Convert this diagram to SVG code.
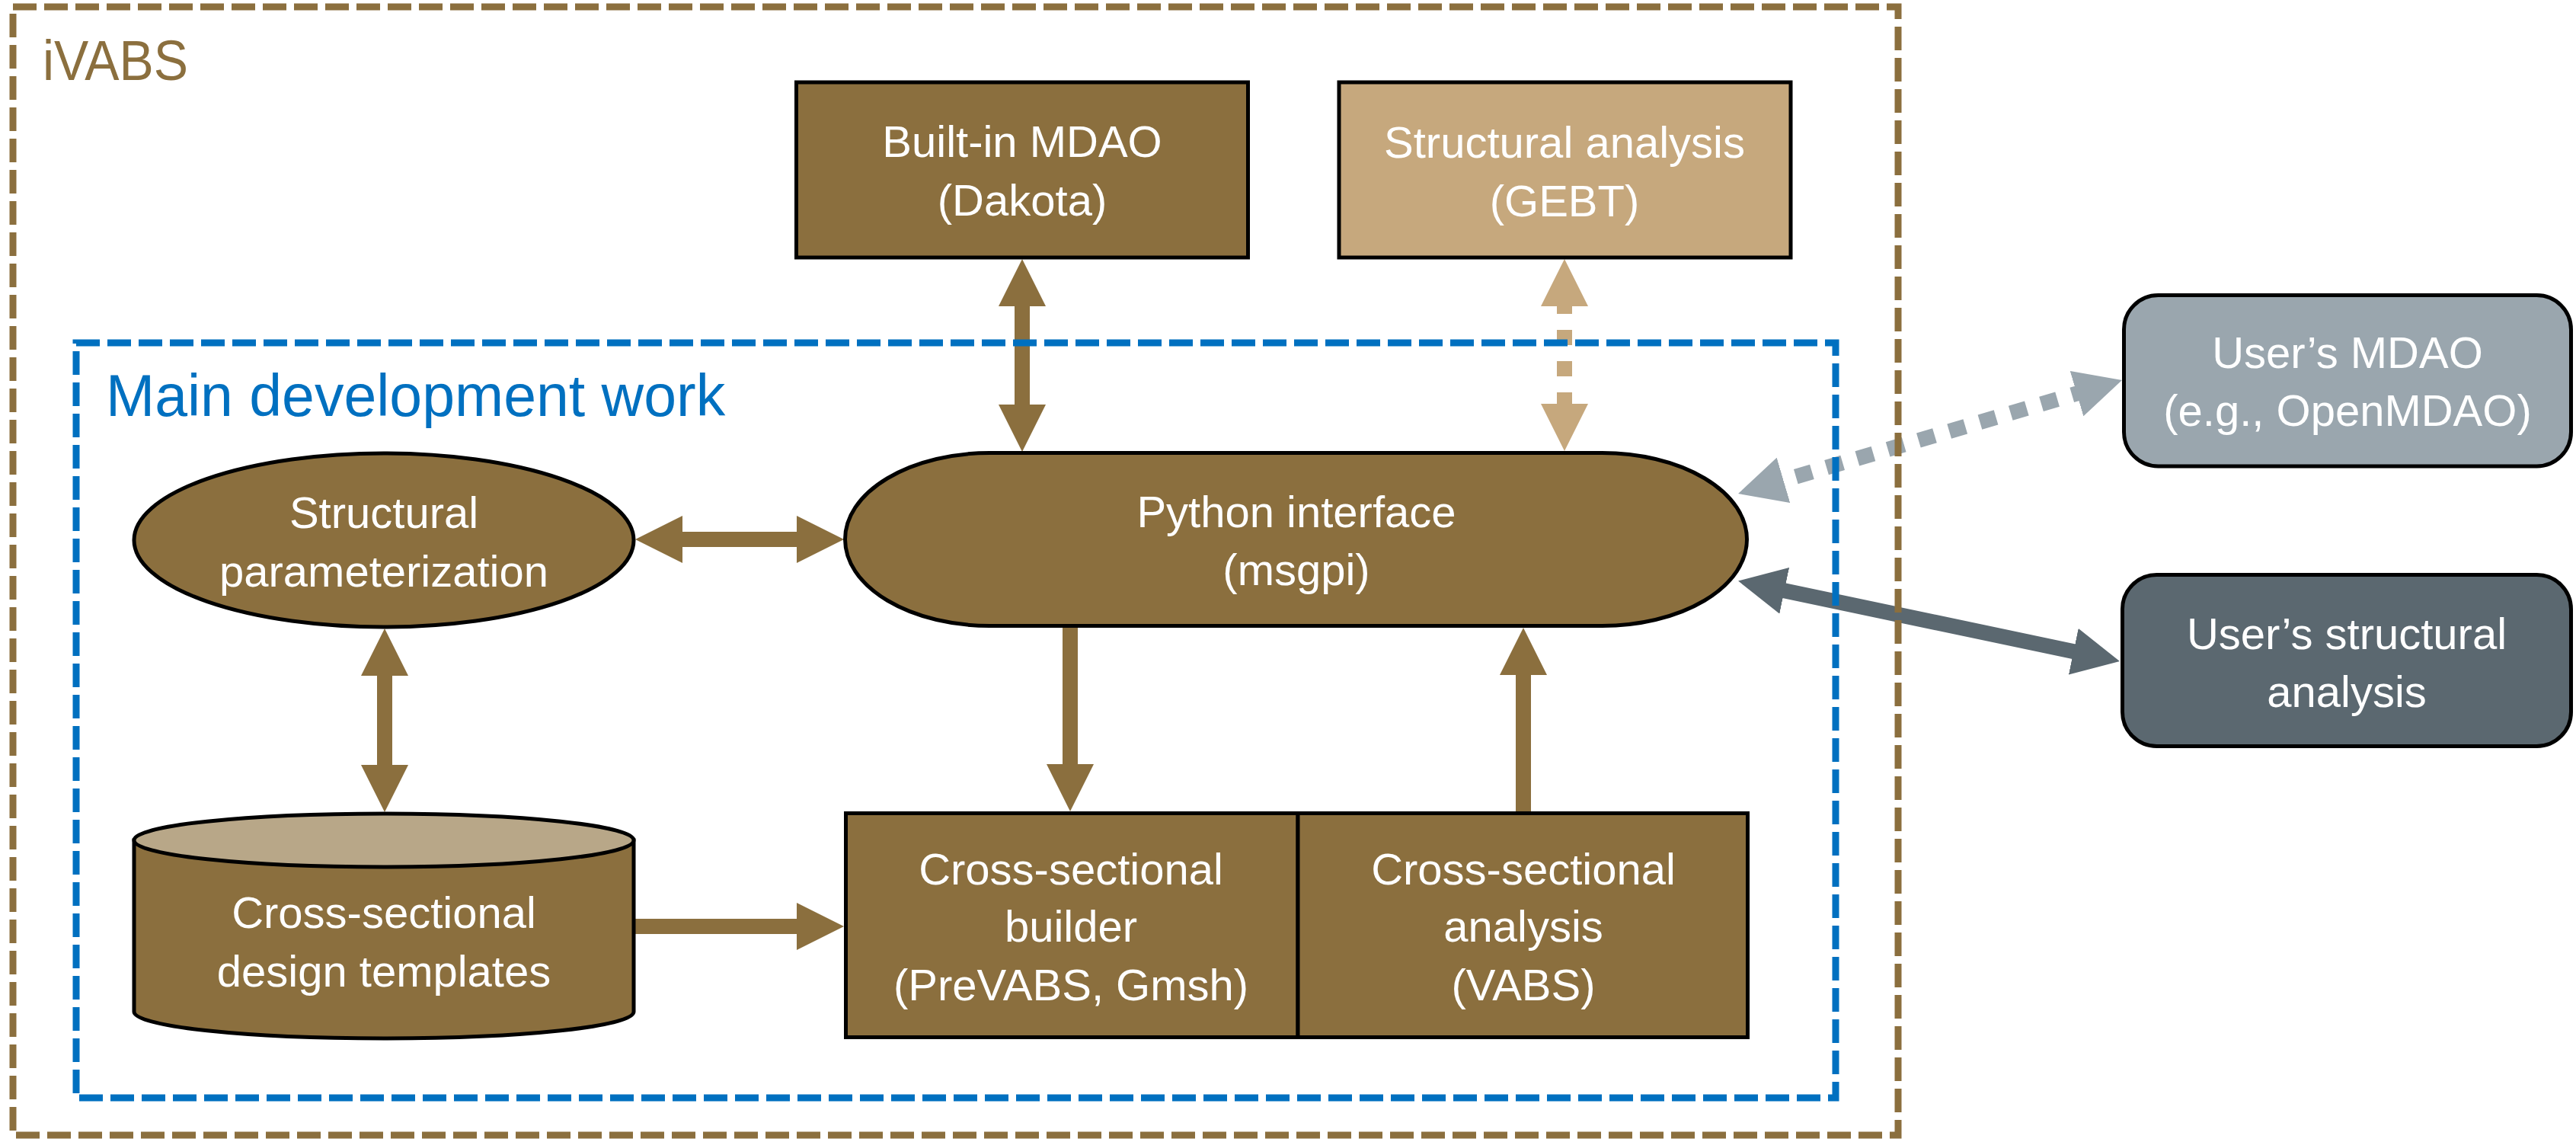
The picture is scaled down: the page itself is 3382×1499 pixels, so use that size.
<svg xmlns="http://www.w3.org/2000/svg" width="3382" height="1499" viewBox="0 0 3382 1499">
<style>
.t{font-family:"Liberation Sans",Arial,sans-serif;font-size:58px;fill:#fff;text-anchor:middle}
.node{stroke:#000;stroke-width:5}
.brown{fill:#8B6F3E}
.shaft{fill:none;stroke-width:20;stroke-linecap:butt}
</style>
<defs>
<marker id="hBrown" viewBox="0 0 62 62" refX="32" refY="31" markerWidth="62" markerHeight="62" markerUnits="userSpaceOnUse" orient="auto-start-reverse"><path d="M0,0 L62,31 L0,62 z" fill="#8B6F3E"/></marker>
<marker id="hTan" viewBox="0 0 62 62" refX="32" refY="31" markerWidth="62" markerHeight="62" markerUnits="userSpaceOnUse" orient="auto-start-reverse"><path d="M0,0 L62,31 L0,62 z" fill="#C6A87D"/></marker>
<marker id="hGrey" viewBox="0 0 62 62" refX="32" refY="31" markerWidth="62" markerHeight="62" markerUnits="userSpaceOnUse" orient="auto-start-reverse"><path d="M0,0 L62,31 L0,62 z" fill="#9AA6AE"/></marker>
<marker id="hSlate" viewBox="0 0 62 62" refX="32" refY="31" markerWidth="62" markerHeight="62" markerUnits="userSpaceOnUse" orient="auto-start-reverse"><path d="M0,0 L62,31 L0,62 z" fill="#5B6870"/></marker>
</defs>
<rect width="3382" height="1499" fill="#fff"/>

<g id="connectors">
<line class="shaft" x1="1342" y1="370" x2="1342" y2="563" stroke="#8B6F3E" stroke-width="18" marker-start="url(#hBrown)" marker-end="url(#hBrown)"/>
<line class="shaft" x1="2054" y1="370" x2="2054" y2="562" stroke="#C6A87D" stroke-width="18" stroke-dasharray="20 21" stroke-dashoffset="19" marker-start="url(#hTan)" marker-end="url(#hTan)"/>
<line class="shaft" x1="864" y1="708" x2="1078" y2="708" stroke="#8B6F3E" marker-start="url(#hBrown)" marker-end="url(#hBrown)"/>
<line class="shaft" x1="505" y1="855" x2="505" y2="1036" stroke="#8B6F3E" marker-start="url(#hBrown)" marker-end="url(#hBrown)"/>
<line class="shaft" x1="834" y1="1216" x2="1078" y2="1216" stroke="#8B6F3E" marker-end="url(#hBrown)"/>
<line class="shaft" x1="1405" y1="824" x2="1405" y2="1035" stroke="#8B6F3E" marker-end="url(#hBrown)"/>
<line class="shaft" x1="2000" y1="1065" x2="2000" y2="854" stroke="#8B6F3E" marker-end="url(#hBrown)"/>
<line class="shaft" x1="2310.8" y1="639.5" x2="2757.2" y2="507.5" stroke="#9AA6AE" stroke-dasharray="22 20" stroke-dashoffset="35" marker-start="url(#hGrey)" marker-end="url(#hGrey)"/>
<line class="shaft" x1="2311.4" y1="768.7" x2="2753.6" y2="861.8" stroke="#5B6870" marker-start="url(#hSlate)" marker-end="url(#hSlate)"/>
</g>

<g id="ivabs-container">
<rect x="17" y="9" width="2475" height="1481" fill="none" stroke="#8B6F3E" stroke-width="9" stroke-dasharray="31 10"/>
<text x="56" y="105" font-family="Liberation Sans,Arial,sans-serif" font-size="74" fill="#8B6F3E" textLength="191" lengthAdjust="spacingAndGlyphs">iVABS</text>
</g>

<g id="main-dev-container">
<rect x="100" y="450" width="2310" height="991" fill="none" stroke="#0070C0" stroke-width="9" stroke-dasharray="31 10"/>
<text x="139" y="546" font-family="Liberation Sans,Arial,sans-serif" font-size="77" fill="#0070C0">Main development work</text>
</g>

<g id="dakota">
<rect class="node brown" x="1045.5" y="108" width="593" height="230"/>
<text class="t" x="1342" y="206">Built-in MDAO</text>
<text class="t" x="1342" y="283">(Dakota)</text>
</g>

<g id="gebt">
<rect class="node" fill="#C6A87D" x="1758" y="108" width="593" height="230"/>
<text class="t" x="2054" y="207">Structural analysis</text>
<text class="t" x="2054" y="284">(GEBT)</text>
</g>

<g id="python">
<rect class="node brown" x="1109.5" y="594.5" width="1184" height="227" rx="190" ry="113.5"/>
<text class="t" x="1702" y="692">Python interface</text>
<text class="t" x="1702" y="768">(msgpi)</text>
</g>

<g id="struct-param">
<ellipse class="node brown" cx="504" cy="709" rx="328" ry="114"/>
<text class="t" x="504" y="693">Structural</text>
<text class="t" x="504" y="770">parameterization</text>
</g>

<g id="templates">
<path class="node brown" d="M176,1103 L176,1328 A328,35 0 0 0 832,1328 L832,1103 Z"/>
<ellipse class="node" fill="#B8A788" cx="504" cy="1103" rx="328" ry="35"/>
<text class="t" x="504" y="1218">Cross-sectional</text>
<text class="t" x="504" y="1295">design templates</text>
</g>

<g id="builder">
<rect class="node brown" x="1110.5" y="1067.5" width="593.5" height="294"/>
<text class="t" x="1406" y="1161">Cross-sectional</text>
<text class="t" x="1406" y="1236">builder</text>
<text class="t" x="1406" y="1313">(PreVABS, Gmsh)</text>
</g>

<g id="analysis">
<rect class="node brown" x="1704" y="1067.5" width="590.5" height="294"/>
<text class="t" x="2000" y="1161">Cross-sectional</text>
<text class="t" x="2000" y="1236">analysis</text>
<text class="t" x="2000" y="1313">(VABS)</text>
</g>

<g id="user-mdao">
<rect class="node" fill="#9AA6AE" x="2788.5" y="387.5" width="587" height="224.5" rx="45" ry="45"/>
<text class="t" x="3082" y="483">User’s MDAO</text>
<text class="t" x="3082" y="559">(e.g., OpenMDAO)</text>
</g>

<g id="user-structural">
<rect class="node" fill="#5B6870" x="2786.5" y="754.5" width="589" height="225" rx="45" ry="45"/>
<text class="t" x="3081" y="852">User’s structural</text>
<text class="t" x="3081" y="928">analysis</text>
</g>
</svg>
